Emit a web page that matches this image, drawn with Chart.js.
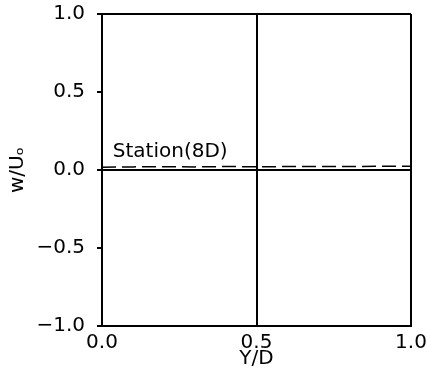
<!DOCTYPE html>
<html><head><meta charset="utf-8">
<script src="https://cdn.jsdelivr.net/npm/chart.js@4"></script>
<style>html,body{margin:0;padding:0;background:#fff}#wrap{width:428px;height:374px}</style>
</head><body><div id="wrap"><canvas id="c" width="428" height="374"></canvas></div>
<script>
// Data
const yOverD = [0.0, 0.1, 0.2, 0.3, 0.4, 0.5, 0.6, 0.7, 0.8, 0.9, 1.0];
const wOverU = [0.018, 0.020, 0.021, 0.020, 0.022, 0.021, 0.022, 0.023, 0.022, 0.024, 0.024];
const xTickLabels = ['0.0', '0.5', '1.0'];
const yTickLabels = ['\u22121.0', '\u22120.5', '0.0', '0.5', '1.0'];
const xTickValues = [0, 0.5, 1];
const yTickValues = [-1, -0.5, 0, 0.5, 1];
const xTitle = 'Y/D';
const yTitle = 'w/U\u2092';
const stationLabel = 'Station(8D)';
const stationAt = {x: 0.035, y: 0.085};

const FONT = 'DejaVu Sans';

const textPlugin = {
  id: 'stationText',
  afterDatasetsDraw(chart) {
    const {ctx, scales} = chart;
    ctx.save();
    ctx.fillStyle = '#000';
    ctx.font = '20px "' + FONT + '"';
    ctx.textBaseline = 'alphabetic';
    ctx.textAlign = 'left';
    ctx.fillText(stationLabel, scales.x.getPixelForValue(stationAt.x), scales.y.getPixelForValue(stationAt.y));
    ctx.restore();
  }
};

new Chart(document.getElementById('c'), {
  type: 'line',
  data: {
    datasets: [{
      data: yOverD.map((x, i) => ({x: x, y: wOverU[i]})),
      borderColor: '#000',
      borderWidth: 1.5,
      borderDash: [14, 6],
      pointRadius: 0,
      fill: false,
      tension: 0
    }]
  },
  options: {
    responsive: false,
    animation: false,
    devicePixelRatio: 1,
    layout: {padding: {top: 14, right: 17, left: 0, bottom: 0}},
    plugins: {legend: {display: false}, tooltip: {enabled: false}},
    scales: {
      x: {
        type: 'linear', min: 0, max: 1,
        afterBuildTicks: s => { s.ticks = xTickValues.map(v => ({value: v})); },
        afterFit: s => { s.height = 48; s.paddingLeft = 0; s.paddingRight = 0; },
        ticks: {
          color: '#000', padding: 5, maxRotation: 0,
          font: {family: FONT, size: 20},
          callback: (v, i) => xTickLabels[i]
        },
        grid: {color: '#000', lineWidth: 2, drawTicks: false},
        border: {display: true, color: '#000', width: 2},
        title: {display: true, text: xTitle, color: '#000', font: {family: FONT, size: 20}, padding: {top: 0, bottom: 3}}
      },
      y: {
        type: 'linear', min: -1, max: 1,
        afterBuildTicks: s => { s.ticks = yTickValues.map(v => ({value: v})); },
        afterFit: s => { s.width = 102; s.paddingTop = 0; s.paddingBottom = 0; },
        ticks: {
          color: '#000', padding: 12,
          font: {family: FONT, size: 20},
          callback: (v, i) => yTickLabels[i]
        },
        grid: {
          color: c => (c.tick && [-1, 0, 1].includes(c.tick.value)) ? '#000' : 'rgba(0,0,0,0)',
          tickColor: '#000', tickLength: 5, lineWidth: 2
        },
        border: {display: true, color: '#000', width: 2},
        title: {display: true, text: yTitle, color: '#000', font: {family: FONT, size: 20}, padding: {top: 6, bottom: 0}}
      }
    }
  },
  plugins: [textPlugin]
});
</script>
</body></html>
